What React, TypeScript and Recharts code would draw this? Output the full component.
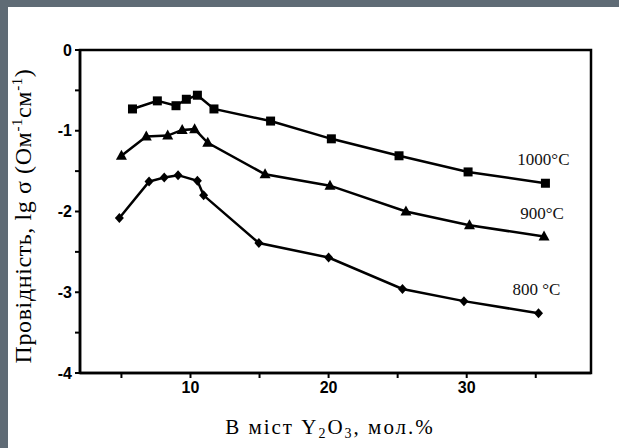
import React from "react";
import {
  LineChart,
  Line,
  XAxis,
  YAxis,
  Label,
  LabelList,
} from "recharts";

// 1000 °C (squares)
const x1000 = [5.8, 7.6, 8.95, 9.7, 10.5, 11.7, 15.8, 20.2, 25.1, 30.1, 35.7];
const y1000 = [-0.73, -0.63, -0.69, -0.61, -0.56, -0.73, -0.88, -1.1, -1.31, -1.51, -1.65];

// 900 °C (triangles)
const x900 = [5.0, 6.8, 8.35, 9.4, 10.3, 11.25, 15.4, 20.1, 25.6, 30.2, 35.6];
const y900 = [-1.31, -1.07, -1.06, -0.99, -0.98, -1.15, -1.54, -1.68, -2.0, -2.17, -2.31];

// 800 °C (diamonds)
const x800 = [4.85, 7.0, 8.1, 9.1, 10.5, 10.95, 14.95, 20.0, 25.35, 29.8, 35.2];
const y800 = [-2.08, -1.63, -1.58, -1.55, -1.62, -1.8, -2.39, -2.57, -2.96, -3.11, -3.26];

const seriesNames = ["1000°C", "900°C", "800 °C"];
const xDomain = [2, 39];
const yDomain = [-4, 0];
const xTicks = [5, 10, 15, 20, 25, 30, 35];
const yTicks = [-4, -3.5, -3, -2.5, -2, -1.5, -1, -0.5, 0];

const toRows = (xs: number[], ys: number[]) =>
  xs.map((x, i) => ({ x, y: ys[i] }));

const data1000 = toRows(x1000, y1000);
const data900 = toRows(x900, y900);
const data800 = toRows(x800, y800);

const W = 619;
const H = 448;
const MARGIN = { top: 50, right: 28, bottom: 0, left: 0 };
const Y_AXIS_W = 80;
const X_AXIS_H = 75;
// plot box, from the layout above
const BOX = {
  left: MARGIN.left + Y_AXIS_W,
  right: W - MARGIN.right,
  top: MARGIN.top,
  bottom: H - MARGIN.bottom - X_AXIS_H,
};

const tickFont = {
  fontFamily: "'Liberation Sans', Arial, sans-serif",
  fontWeight: 700,
  fontSize: 16,
  fill: "#000",
};
const serif = "'Liberation Serif', 'Times New Roman', serif";

const Square = (p: any) => (
  <rect key={p.key ?? p.index} x={p.cx - 4.5} y={p.cy - 4.5} width={9} height={9} fill="#000" />
);
const Triangle = (p: any) => (
  <path
    key={p.key ?? p.index}
    d={`M${p.cx},${p.cy - 6} L${p.cx + 5.5},${p.cy + 4} L${p.cx - 5.5},${p.cy + 4} Z`}
    fill="#000"
  />
);
const Diamond = (p: any) => (
  <path
    key={p.key ?? p.index}
    d={`M${p.cx},${p.cy - 5} L${p.cx + 4.5},${p.cy} L${p.cx},${p.cy + 5} L${p.cx - 4.5},${p.cy} Z`}
    fill="#000"
  />
);

// name written above the last point of each curve
const endLabel = (name: string, count: number) => (p: any) => {
  if (p.index !== count - 1) return null;
  return (
    <text
      x={p.x - 2}
      y={p.y - 18}
      textAnchor="middle"
      fontFamily={serif}
      fontSize={17}
      fill="#111"
    >
      {name}
    </text>
  );
};

const YTitle = () => (
  <text
    transform="translate(31,216) rotate(-90)"
    textAnchor="middle"
    fontFamily={serif}
    fontSize={24}
    letterSpacing={0.6}
    fill="#000"
  >
    Провідність, lg σ (Ом
    <tspan dy={-9} fontSize={15}>-1</tspan>
    <tspan dy={9}>см</tspan>
    <tspan dy={-9} fontSize={15}>-1</tspan>
    <tspan dy={9}>)</tspan>
  </text>
);

const XTitle = () => (
  <text
    x={330}
    y={434}
    textAnchor="middle"
    fontFamily={serif}
    fontSize={21}
    letterSpacing={2}
    fill="#000"
  >
    В міст Y
    <tspan dy={4} fontSize={14}>2</tspan>
    <tspan dy={-4}>O</tspan>
    <tspan dy={4} fontSize={14}>3</tspan>
    <tspan dy={-4}>, мол.%</tspan>
  </text>
);

const frame = { stroke: "#000", strokeWidth: 2.5 };

export default function App() {
  return (
    <div
      style={{
        position: "absolute",
        left: 0,
        top: 0,
        width: W,
        height: H,
        background: "#5f6b75",
        overflow: "hidden",
      }}
    >
      <div
        style={{
          position: "absolute",
          left: 8,
          top: 7,
          width: W - 8,
          height: H - 7,
          background: "#fff",
        }}
      />
      <div style={{ position: "absolute", left: 0, top: 0 }}>
        <LineChart width={W} height={H} margin={MARGIN}>
          <XAxis
            dataKey="x"
            type="number"
            domain={xDomain}
            ticks={xTicks}
            interval={0}
            tickFormatter={(v: number) => (v % 10 === 0 ? String(v) : "")}
            height={X_AXIS_H}
            tick={tickFont}
            tickSize={5}
            tickMargin={4}
            axisLine={frame}
            tickLine={{ stroke: "#000", strokeWidth: 2 }}
          >
            <Label content={<XTitle />} />
          </XAxis>
          <YAxis
            type="number"
            domain={yDomain}
            ticks={yTicks}
            interval={0}
            tickFormatter={(v: number) => (Number.isInteger(v) ? String(v) : "")}
            width={Y_AXIS_W}
            tick={tickFont}
            tickSize={5}
            tickMargin={3}
            axisLine={frame}
            tickLine={{ stroke: "#000", strokeWidth: 2 }}
          >
            <Label content={<YTitle />} />
          </YAxis>
          <Line
            data={data1000}
            dataKey="y"
            stroke="#000"
            strokeWidth={2.5}
            dot={Square}
            isAnimationActive={false}
          >
            <LabelList dataKey="y" content={endLabel(seriesNames[0], data1000.length)} />
          </Line>
          <Line
            data={data900}
            dataKey="y"
            stroke="#000"
            strokeWidth={2.5}
            dot={Triangle}
            isAnimationActive={false}
          >
            <LabelList dataKey="y" content={endLabel(seriesNames[1], data900.length)} />
          </Line>
          <Line
            data={data800}
            dataKey="y"
            stroke="#000"
            strokeWidth={2.5}
            dot={Diamond}
            isAnimationActive={false}
          >
            <LabelList dataKey="y" content={endLabel(seriesNames[2], data800.length)} />
          </Line>
        </LineChart>
      </div>
      {/* top and right sides of the box */}
      <svg
        width={W}
        height={H}
        style={{ position: "absolute", left: 0, top: 0, pointerEvents: "none" }}
      >
        <rect
          x={BOX.left}
          y={BOX.top}
          width={BOX.right - BOX.left}
          height={BOX.bottom - BOX.top}
          fill="none"
          stroke="#000"
          strokeWidth={2.5}
        />
      </svg>
    </div>
  );
}
